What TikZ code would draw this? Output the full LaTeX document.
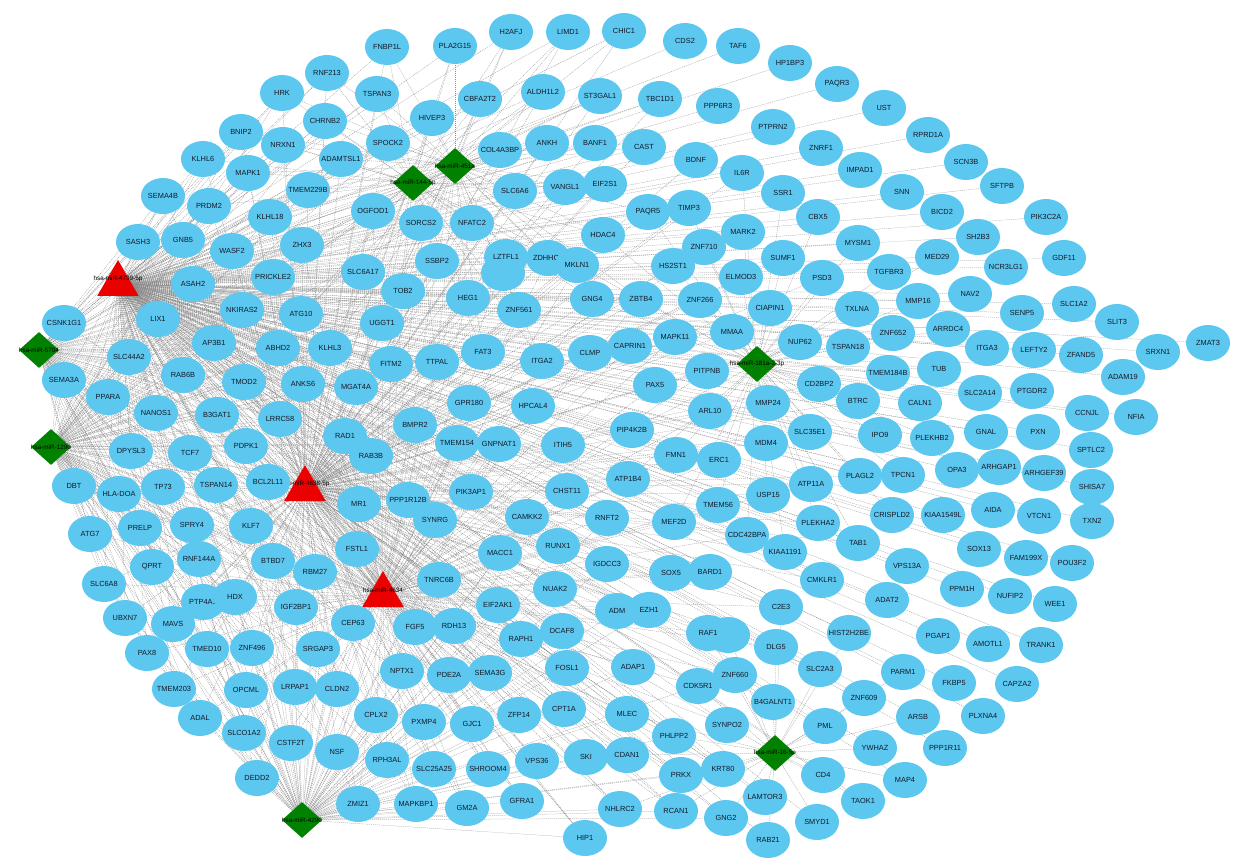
\documentclass[tikz,border=0pt]{standalone}
\usepackage{fontspec}
\setmainfont{Liberation Sans}
\usetikzlibrary{shapes.geometric,backgrounds}
\definecolor{nodeblue}{RGB}{92,200,240}
\definecolor{hubgreen}{RGB}{0,130,0}
\definecolor{hubred}{RGB}{235,0,0}
\definecolor{txt}{RGB}{20,25,40}
\def\genelist{FNBP1L/387/47,PLA2G15/455/46,H2AFJ/511/32,LIMD1/568/32,CHIC1/624/31,CDS2/685/41,TAF6/738/46,HP1BP3/790/63,PAQR3/837/84,UST/884/108,RPRD1A/928/135,SCN3B/966/162,SFTPB/1002/186,PIK3C2A/1046/217,GDF11/1064/258,RNF213/327/73,HRK/282/93,TSPAN3/377/94,CBFA2T2/480/99,ALDH1L2/543/92,ST3GAL1/600/96,TBC1D1/660/99,PPP6R3/718/106,PTPRN2/773/127,ZNRF1/821/148,IMPAD1/860/170,SNN/902/192,BICD2/942/212,SH2B3/978/237,MED29/937/257,NCR3LG1/1006/267,CHRNB2/325/121,BNIP2/241/132,NRXN1/283/145,HIVEP3/432/118,SPOCK2/388/143,ADAMTSL1/341/159,COL4A3BP/500/150,ANKH/547/143,BANF1/595/143,CAST/644/147,BDNF/696/160,IL6R/742/173,SSR1/783/193,CBX5/818/217,MYSM1/858/243,TGFBR3/889/272,KLHL6/203/159,MAPK1/248/173,SEMA4B/163/196,PRDM2/209/206,TMEM229B/308/190,KLHL18/270/217,SASH3/138/242,GNB5/183/240,WASF2/232/251,ZHX3/302/245,PRICKLE2/273/277,ASAH2/193/284,SLC6A6/515/191,VANGL1/565/187,EIF2S1/605/184,OGFOD1/373/211,SORCS2/421/223,NFATC2/472/223,HDAC4/603/235,PAQR5/648/212,TIMP3/689/208,MARK2/743/232,ZNF710/704/247,HS2ST1/673/266,SUMF1/783/258,ELMOD3/741/277,PSD3/822/278,SSBP2/437/261,LZTFL1/506/257,ZDHHC9/548/258,MKLN1/577/265,SLC6A17/363/272,TOB2/403/291,HEG1/468/298,ZNF561/519/310,GNG4/592/299,ZBTB4/641/299,ZNF266/700/300,CIAPIN1/770/308,TXLNA/857/309,MMP16/918/301,NAV2/970/294,SENP5/1022/313,SLC1A2/1074/304,SLIT3/1117/322,ARRDC4/948/329,ZNF652/893/333,ITGA3/987/348,LEFTY2/1034/350,ZFAND5/1081/355,SRXN1/1158/352,ZMAT3/1208/343,TUB/939/369,TMEM184B/888/373,SLC2A14/980/393,PTGDR2/1032/391,ADAM19/1123/377,CCNJL/1087/413,NFIA/1136/417,CALN1/920/403,BTRC/858/401,GNAL/986/432,PXN/1038/432,PLEKHB2/932/438,IPO9/880/435,SPTLC2/1091/450,OPA3/957/470,ARHGAP1/999/467,ARHGEF39/1044/473,SHISA7/1092/487,PLAGL2/860/476,TPCN1/903/475,CRISPLD2/892/515,KIAA1549L/943/515,AIDA/993/510,VTCN1/1039/516,TXN2/1092/521,TAB1/858/543,SOX13/979/549,FAM199X/1026/558,POU3F2/1072/563,VPS13A/907/566,PPM1H/962/589,NUFIP2/1010/596,WEE1/1055/604,ADAT2/887/600,PGAP1/938/636,AMOTL1/988/644,TRANK1/1041/645,PARM1/903/672,FKBP5/954/683,CAPZA2/1017/684,ARSB/918/717,PLXNA4/983/716,PPP1R11/945/748,MAP4/905/780,YWHAZ/875/748,ZNF609/864/698,HIST2H2BE/849/633,TAOK1/863/801,SMYD1/817/822,CD4/823/775,PML/825/726,SLC2A3/820/669,CMKLR1/822/580,C2E3/781/607,DLG5/776/647,B4GALNT1/773/702,LAMTOR3/765/797,RAB21/768/840,GNG2/726/818,KRT80/723/769,SYNPO2/727/725,CDK5R1/698/686,ZNF660/735/675,RAF1/708/633,PHLPP2/674/736,PRKX/681/775,RCAN1/676/811,NHLRC2/620/809,CDAN1/627/755,MLEC/627/714,ADAP1/633/667,ADM/617/611,EZH1/649/610,SOX5/671/573,BARD1/710/572,IGDCC3/607/564,MAPK11/675/337,MMAA/732/332,NUP62/800/342,CAPRIN1/630/346,TSPAN18/848/347,PITPNB/707/371,PAX5/655/385,CD2BP2/819/384,ARL10/710/411,MMP24/768/403,PIP4K2B/632/430,SLC35E1/810/432,MDM4/766/443,FMN1/676/455,ERC1/719/460,ATP1B4/628/479,ATP11A/811/484,USP15/768/495,TMEM56/718/505,RNFT2/607/518,MEF2D/674/522,PLEKHA2/818/523,CDC42BPA/747/535,KIAA1191/785/552,CSNK1G1/64/323,LIX1/158/319,NKIRAS2/242/310,ATG10/301/314,SLC44A2/129/357,AP3B1/214/343,ABHD2/278/348,KLHL3/330/348,SEMA3A/64/380,PPARA/108/397,RAB6B/183/375,TMOD2/244/382,ANKS6/303/384,NANOS1/156/413,B3GAT1/217/415,LRRC58/280/419,DPYSL3/131/451,TCF7/190/453,PDPK1/246/446,DBT/74/486,HLA-DOA/119/494,TP73/163/487,TSPAN14/216/485,BCL2L11/268/482,ATG7/90/534,PRELP/140/528,SPRY4/192/525,KLF7/251/526,QPRT/152/567,RNF144A/199/559,BTBD7/273/561,RBM27/315/572,SLC6A8/104/584,PTP4A1/203/602,HDX/235/597,IGF2BP1/296/607,UBXN7/125/618,MAVS/173/624,PAX8/147/653,TMED10/207/649,ZNF496/252/648,SRGAP3/318/649,TMEM203/174/689,OPCML/246/690,LRPAP1/295/687,ADAL/200/718,SLCO1A2/244/733,CSTF2T/291/743,DEDD2/257/778,UGGT1/382/323,FITM2/391/364,TTPAL/437/362,FAT3/483/352,ITGA2/542/361,CLMP/590/353,MGAT4A/356/387,GPR180/469/403,HPCAL4/533/406,RAD1/345/436,RAB3B/371/456,BMPR2/415/425,TMEM154/457/443,GNPNAT1/499/444,ITIH5/563/445,MR1/359/504,PPP1R12B/408/500,SYNRG/435/520,PIK3AP1/471/492,CHST11/567/491,CAMKK2/527/517,FSTL1/357/549,MACC1/500/553,RUNX1/558/546,TNRC6B/439/580,NUAK2/555/589,CEP63/353/623,FGF5/415/627,RDH13/454/626,EIF2AK1/498/605,RAPH1/521/639,DCAF8/562/631,NPTX1/402/671,PDE2A/449/675,SEMA3G/490/673,FOSL1/567/668,CLDN2/337/689,CPLX2/376/715,PXMP4/424/722,GJC1/472/724,ZFP14/519/715,CPT1A/564/709,NSF/337/752,RPH3AL/387/760,SLC25A25/434/769,SHROOM4/488/769,VPS36/537/761,SKI/586/757,ZMIZ1/358/804,MAPKBP1/416/804,GM2A/467/808,GFRA1/522/801,HIP1/585/838}
\tikzset{
  gene/.style={ellipse, fill=nodeblue, minimum width=44pt, minimum height=36pt, inner sep=0pt},
  glabel/.style={font=\fontsize{7.4}{8}\selectfont, text=txt, inner sep=0pt},
  edge/.style={draw=black!45, line width=0.25pt, dash pattern=on 1.2pt off 0.8pt},
  hubtri/.style={regular polygon, regular polygon sides=3, fill=hubred, minimum size=48pt, inner sep=0pt},
  hubdia/.style={diamond, fill=hubgreen, minimum width=40pt, minimum height=36pt, inner sep=0pt},
  hublabel/.style={font=\fontsize{6.3}{7}\selectfont, text=black, inner sep=0pt},
}
\begin{document}
\begin{tikzpicture}[x=1pt,y=-1pt]
\useasboundingbox (0,0) rectangle (1241,866);
% hubs
\node[hubtri, label={[hublabel, yshift=5pt]center:hsa-miR-4739-5p}] (T1) at (118,284) {};
\node[hubtri, label={[hublabel, yshift=5pt]center:hsa-miR-4638-5p}] (T2) at (305,489) {};
\node[hubtri, label={[hublabel, yshift=5pt]center:hsa-miR-4634}] (T3) at (383,595) {};
\node[hubdia, label={[hublabel]center:hsa-miR-5704}] (D5704) at (39,350) {};
\node[hubdia, label={[hublabel]center:hsa-miR-1290}] (D1290) at (51,447) {};
\node[hubdia, label={[hublabel]center:hsa-miR-451a}] (D451) at (455,166) {};
\node[hubdia, label={[hublabel]center:hsa-miR-144-5p}] (D144) at (413,183) {};
\node[hubdia, label={[hublabel]center:hsa-miR-181a-2-3p}] (D181) at (757,364) {};
\node[hubdia, label={[hublabel]center:hsa-miR-16-5p}] (D16) at (775,753) {};
\node[hubdia, label={[hublabel]center:hsa-miR-4290}] (D4290) at (302,820) {};
% hidden (overlapped) genes
\node[gene] (hidA) at (503,273) {};
\node[gene] (hidB) at (728,635) {};
% genes
\foreach \n/\x/\y in \genelist {
  \node[gene, label={[glabel]center:\n}] (\n) at (\x,\y) {};
}
% connectors
\begin{scope}[on background layer]
\fill[white] (0,0) rectangle (1241,866);
\foreach \n/\x/\y in \genelist {
  \foreach \h/\hx/\hy/\r in {T1/118/284/5000, T2/305/489/560, T3/383/595/400, D4290/302/820/430, D1290/51/447/460, D5704/39/350/450, D181/757/364/210, D16/775/753/165, D451/455/166/230, D144/413/183/220} {
    \pgfmathtruncatemacro\ok{(veclen(\x-\hx,\y-\hy)<\r)}
    \ifnum\ok=1 \draw[edge] (\h) -- (\n); \fi
  }
}
\draw[edge] (T1) -- (hidA);
\draw[edge] (D16) -- (hidB);
\end{scope}
\end{tikzpicture}
\end{document}
